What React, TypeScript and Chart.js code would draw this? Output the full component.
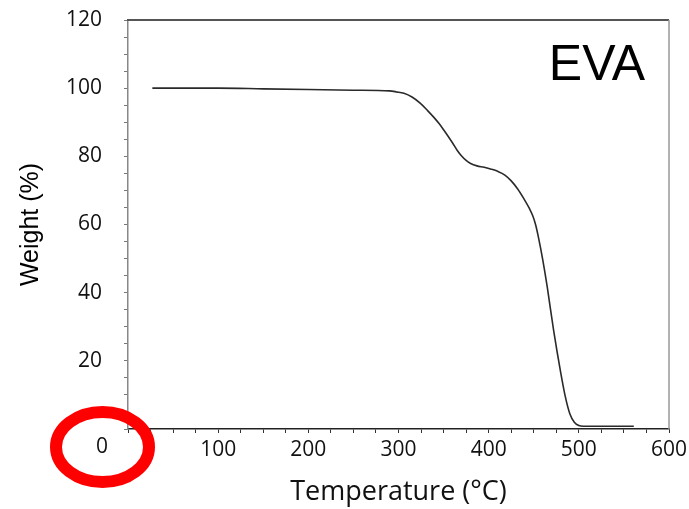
import React, { useEffect, useRef } from "react";
import { Chart, registerables } from "chart.js";

Chart.register(...registerables);

const temperatures = [27, 100, 150, 200, 250, 290, 298, 306, 315, 324, 332, 339, 345, 350, 355, 360, 365, 370, 375, 380, 387, 395, 402, 410, 418, 425, 432, 439, 445, 449, 452, 455, 460, 465, 472, 480, 485, 490, 495, 500, 505, 520, 540, 561];
const weights = [100, 100, 99.8, 99.6, 99.4, 99.2, 98.9, 98.5, 97.4, 95.6, 93.5, 91.5, 89.6, 87.8, 85.9, 83.9, 81.8, 80.1, 78.8, 77.9, 77.2, 76.8, 76.3, 75.6, 74.5, 72.8, 70.5, 67.6, 64.8, 62.5, 60.0, 56.5, 49.6, 41.6, 29.0, 16.4, 9.5, 4.5, 2.0, 1.0, 0.8, 0.8, 0.8, 0.8];
const xTickLabels = ["0", "100", "200", "300", "400", "500", "600"];
const yTickLabels = ["20", "40", "60", "80", "100", "120"];
const sampleName = "EVA";
const xTitle = "Temperature (°C)";
const yTitle = "Weight (%)";

const FONT = "'Open Sans', 'Liberation Sans', sans-serif";
const ARIAL = "'Liberation Sans', Arial, sans-serif";

const decorPlugin = {
  id: "decor",
  beforeDatasetsDraw(chart: any) {
    const { ctx, chartArea } = chart;
    ctx.save();
    ctx.strokeStyle = "#555";
    ctx.lineWidth = 2;
    ctx.beginPath();
    ctx.moveTo(chartArea.left - 1, chartArea.top);
    ctx.lineTo(chartArea.right, chartArea.top);
    ctx.stroke();
    ctx.strokeStyle = "#999";
    ctx.lineWidth = 1.5;
    ctx.beginPath();
    ctx.moveTo(chartArea.right, chartArea.top);
    ctx.lineTo(chartArea.right, chartArea.bottom);
    ctx.stroke();
    ctx.restore();
  },
  afterDraw(chart: any) {
    const { ctx } = chart;
    const xs = chart.scales.x;
    const x0 = xs.getPixelForValue(0);
    const y0 = chart.chartArea.bottom;
    ctx.save();
    ctx.fillStyle = "#000";
    ctx.font = "50px " + ARIAL;
    ctx.textAlign = "center";
    ctx.textBaseline = "alphabetic";
    ctx.fillText(sampleName, chart.chartArea.right - 72, chart.chartArea.top + 60);
    ctx.font = "21px " + FONT;
    ctx.textBaseline = "middle";
    ctx.fillStyle = "#111";
    ctx.fillText(xTickLabels[0], x0 - 26, y0 + 18);
    ctx.strokeStyle = "#ff0000";
    ctx.lineWidth = 12;
    ctx.beginPath();
    ctx.ellipse(x0 - 25.5, y0 + 18, 46.5, 35, 0, 0, Math.PI * 2);
    ctx.stroke();
    ctx.restore();
  },
};

export default function App() {
  const ref = useRef<HTMLCanvasElement>(null);
  useEffect(() => {
    document.body.style.margin = "0";
    const chart = new Chart(ref.current!, {
      type: "line",
      data: {
        datasets: [
          {
            data: temperatures.map((t, i) => ({ x: t, y: weights[i] })),
            borderColor: "#2a2a2a",
            borderWidth: 1.6,
            pointRadius: 0,
            cubicInterpolationMode: "monotone",
            fill: false,
          },
        ],
      },
      options: {
        responsive: false,
        animation: false,
        layout: { padding: { top: 20, right: 20, left: 0, bottom: 0 } },
        plugins: { legend: { display: false }, tooltip: { enabled: false } },
        scales: {
          x: {
            type: "linear",
            min: 0,
            max: 600,
            afterFit(scale: any) {
              scale.height = 80;
              scale.paddingLeft = 0;
              scale.paddingRight = 0;
            },
            ticks: {
              stepSize: 25,
              autoSkip: false,
              maxRotation: 0,
              padding: 4,
              color: "#111",
              font: { family: FONT, size: 21 },
              callback(v: any) {
                const s = String(v);
                return xTickLabels.indexOf(s) > 0 && v % 100 === 0 ? s : "";
              },
            },
            grid: { drawOnChartArea: false, tickLength: 4, color: "#333", lineWidth: 1 },
            border: { color: "#222", width: 1.5 },
            title: {
              display: true,
              text: xTitle,
              color: "#111",
              font: { family: FONT, size: 27 },
              padding: { top: 0, bottom: 0 },
            },
          },
          y: {
            min: 0,
            max: 120,
            afterFit(scale: any) {
              scale.width = 128;
              scale.paddingTop = 0;
              scale.paddingBottom = 0;
            },
            ticks: {
              stepSize: 5,
              autoSkip: false,
              padding: 22,
              color: "#111",
              font: { family: FONT, size: 21 },
              callback(v: any) {
                const s = String(v);
                return yTickLabels.indexOf(s) >= 0 ? s : "";
              },
            },
            grid: { drawOnChartArea: false, tickLength: 4, color: "#777", lineWidth: 1 },
            border: { color: "#888", width: 1.5 },
            title: {
              display: true,
              text: yTitle,
              color: "#000",
              font: { family: ARIAL, size: 25 },
              padding: { top: 16, bottom: 0 },
            },
          },
        },
      },
      plugins: [decorPlugin],
    } as any);
    return () => chart.destroy();
  }, []);
  return (
    <div style={{ position: "absolute", left: 0, top: 0, width: 689, height: 509, background: "#fff" }}>
      <canvas ref={ref} width={689} height={509} />
    </div>
  );
}
